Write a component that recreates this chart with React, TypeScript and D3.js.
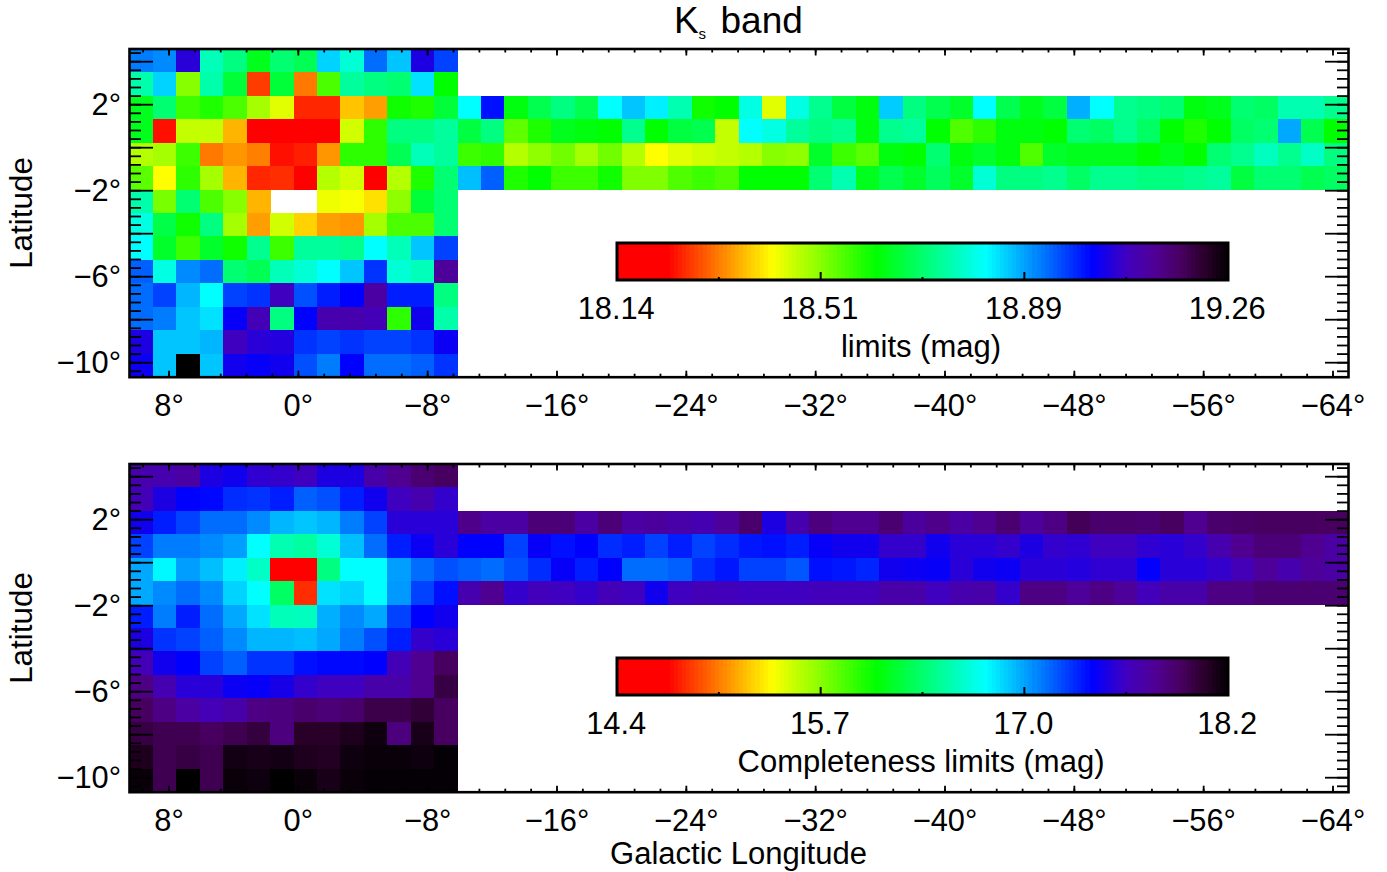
import React from "react";
import * as d3 from "d3";

// Cell values are read as a position along the colour bar: 0 = low end (red), 100 = high end (black).
const limitsBulge: (number | null)[][] = [
  [69, 68, 81, 55, 51, 44, 50, 48, 63, 57, 70, 64, 80, 73],
  [54, 63, 33, 54, 46, 12, 46, 16, 37, 53, 51, 50, 62, 42],
  [44, 50, 38, 40, 37, 31, 27, 10.5, 10.5, 21, 18.5, 41, 40, 46],
  [44, 9, 29, 29, 20, 8, 7, 7, 7, 28, 39, 51, 51, 53],
  [30, 31, 38, 16, 18, 16.5, 9, 10, 18, 39, 39, 48, 55, 53],
  [36, 25, 39, 31, 20, 10.5, 11, 8, 30, 28, 8, 30, 40, 50],
  [54, 34, 50, 37, 33, 20, null, null, 26, 25.5, 23, 32.5, 46, 50],
  [58, 47, 41, 51, 31, 18.5, 28, 22, 18.5, 18, 31, 37, 37, 50],
  [60, 45, 38, 45, 41, 52, 38, 53, 53, 52, 60, 55, 64, 73],
  [71, 58, 68, 70, 50, 48, 55, 57, 60, 64, 74, 57, 55, 87],
  [70, 73, 65, 60, 73, 74, 83, 72, 75.5, 77.5, 86, 75.5, 75.5, 51],
  [70, 69, 64, 62, 78, 84, 51, 77.5, 85, 85, 84, 39, 79, 54],
  [80, 64, 64, 65, 83, 81, 80.5, 74, 73, 74, 73, 73, 74, 78.5],
  [78.5, 64, 100, 64, 79, 78, 79, 72, 69, 77.5, 70, 70, 71, 74],
];
const limitsDisk: number[][] = [
  [60, 76.5, 43, 47.5, 51, 47.5, 60, 64, 61, 54.5, 41, 42, 58, 27, 58, 52, 46.5, 43, 63.5, 51, 47.5, 45, 60, 47.5, 44, 46.5, 65.5, 60, 52, 51, 50, 43, 44, 50, 49, 54.5, 54.5, 52],
  [46.5, 51, 35.6, 40, 44, 43, 42, 52, 42, 46.5, 47.5, 29, 60, 58, 53, 51, 52, 43, 52, 53, 42, 36.7, 39, 43, 43, 42, 50, 49, 52, 49, 42, 40, 42, 49, 50, 66, 47.5, 42],
  [38, 39, 30, 32.4, 34.5, 31, 34.5, 30, 25, 27, 28, 29, 30, 33, 32.4, 45, 38, 36, 43, 42, 50, 43, 45, 43, 36.7, 45, 44, 44, 44, 42, 44, 42, 50, 52, 55.5, 52, 56, 51],
  [64.4, 71, 40, 42, 38, 38, 41, 33.5, 33.5, 36.7, 38, 36.7, 42, 42, 42, 50, 54.4, 44, 47.5, 45, 48.5, 45, 57, 51, 51, 52, 49, 52, 52, 51, 51, 52, 53, 46.5, 50, 50, 47.5, 49],
];
const completenessBulge: number[][] = [
  [85, 85, 86, 80, 79, 81.5, 82, 83, 80, 80, 85.5, 88, 90.5, 92],
  [84, 80, 77.5, 77, 74.5, 74, 75.5, 71, 72, 75.5, 79, 83, 85, 82],
  [79, 75.5, 73, 70, 70, 68, 65, 64, 65, 69, 73, 81, 81, 81],
  [73, 69, 69, 68, 66.6, 60, 54.4, 53.3, 57, 64.4, 70, 75.5, 78.5, 81],
  [66, 60.5, 66.6, 64.4, 61, 56, 8, 8, 51, 60, 60, 66.6, 70, 72],
  [66, 68, 70, 68, 63, 60, 49, 11, 62, 63, 60, 67, 73, 76.5],
  [75.5, 69, 75.5, 70, 66, 62, 55, 55.5, 65.5, 68, 66, 73, 77.5, 79],
  [80, 74, 73, 71, 68, 65, 65, 64.4, 66, 69, 72, 75.5, 82, 81],
  [84, 79, 77.5, 73, 71, 74, 74, 76.5, 77, 77, 77.5, 84, 88, 92],
  [89, 84.5, 81, 81, 78.5, 78, 79.5, 82, 83, 83, 85.5, 85.5, 88, 94],
  [92, 89, 86, 84, 85.5, 89, 89.5, 91, 90, 91, 93.5, 93.5, 95, 92],
  [94, 93, 93, 92, 93, 94.5, 89.5, 96, 96, 97, 98.5, 89.5, 97.5, 92],
  [97, 93, 94, 93, 98, 97.5, 98, 97, 96.5, 98.5, 99, 99, 98.5, 99.5],
  [99, 93, 100, 93, 99, 98.5, 100, 99, 97.5, 99, 99.5, 99.5, 99.5, 99.5],
];
const completenessDisk: number[][] = [
  [88.5, 86, 86, 90, 90, 86, 90, 86, 86.5, 85.5, 84.5, 87, 91, 80, 85, 89.5, 88, 88, 90.5, 86.5, 88.5, 86, 88, 90.5, 87, 89, 92.5, 91, 91, 90.5, 92, 88, 91, 91.5, 92, 92, 92, 92],
  [77.5, 77.5, 73, 78, 76.5, 77.5, 74.5, 75.5, 73, 75.5, 73, 74.5, 76, 76.5, 75.5, 78, 79, 79, 82, 82, 79, 81, 81, 82, 80, 82, 81.5, 83, 83, 81.5, 81, 82, 85, 88, 90, 90, 88, 86],
  [71, 70, 72, 74.5, 78, 75.5, 77.5, 70, 70, 71, 74.5, 76, 73, 73, 71.5, 76.5, 76, 75, 79, 78.5, 78, 81, 79, 78.5, 81, 81, 80.5, 81.5, 81.5, 77.8, 81, 81, 82, 84, 87, 85, 87, 86],
  [85, 88, 82, 83.5, 83, 82, 84, 83, 79, 83, 84, 83.5, 83, 83, 83, 83.5, 83.5, 83.5, 85.5, 85.5, 83, 85, 85.5, 82, 89, 89, 87, 89, 87, 83.5, 85.5, 85.5, 89, 89, 90.5, 90.5, 90.5, 90.5],
];
const lonTicks = [8, 0, -8, -16, -24, -32, -40, -48, -56, -64];
const latLabels = [2, -2, -6, -10];
const limitLabels = ["18.14", "18.51", "18.89", "19.26"];
const completenessLabels = ["14.4", "15.7", "17.0", "18.2"];
const colorPositions = [0, 8, 25, 42, 60, 77.5, 83, 88, 92, 96, 100];
const colorValues = ["#ff0000", "#ff0000", "#ffff00", "#00ff00", "#00ffff", "#0000ff", "#4000c0", "#500090", "#480060", "#280028", "#000000"];

const FONT = "'Liberation Sans', Arial, Helvetica, sans-serif";
const color = d3.scaleLinear<string>().domain(colorPositions).range(colorValues).clamp(true);
const x = d3.scaleLinear().domain([8, -64]).range([169, 1333]);
const lat = d3.scaleLinear().domain([4, -10]).range([61.7, 362.7]);
const CELL = 23.43;
const LEFT = 129.5;
const TOP = 49;
const BOTTOM = 377.2;
const RIGHT = 1348.5;
const LABEL_SIZE = 30.8;
const cols = d3.scaleBand<number>().domain(d3.range(52)).range([LEFT, LEFT + CELL * 52]);
const rows = d3.scaleBand<number>().domain(d3.range(14)).range([TOP, TOP + CELL * 14]);
const barX = d3.scaleLinear().domain([0, 100]).range([617, 1228]);
const barSteps = d3.range(0, 100, 100 / 150);
const barTicks = [1, 2, 3, 4, 5];
const minorLon = d3.range(9.6, -65, -1.6);
const minorLat = d3.range(-10.4, 4.5, 0.4);
const majorLat = d3.range(-10, 5, 2);

function Panel({ dy, bulge, disk, labels, name }: { dy: number; bulge: (number | null)[][]; disk: number[][]; labels: string[]; name: string }) {
  const tickStroke = { stroke: "#000", strokeWidth: 1.8 };
  return (
    <g transform={`translate(0,${dy})`}>
      <g shapeRendering="crispEdges">
        {bulge.map((r, i) =>
          r.map((v, j) =>
            v === null ? null : (
              <rect key={`b${i}-${j}`} x={cols(j)} y={rows(i)} width={cols.bandwidth() + 0.5} height={rows.bandwidth() + 0.5} fill={color(v)} />
            )
          )
        )}
        {disk.map((r, i) =>
          r.map((v, j) => (
            <rect key={`d${i}-${j}`} x={cols(j + 14)} y={rows(i + 2)} width={cols.bandwidth() + 0.5} height={rows.bandwidth() + 0.5} fill={color(v)} />
          ))
        )}
      </g>
      {minorLon.map((v) => (
        <g key={`mx${v}`} {...tickStroke}>
          <line x1={x(v)} x2={x(v)} y1={TOP} y2={TOP + 3.5} />
          <line x1={x(v)} x2={x(v)} y1={BOTTOM} y2={BOTTOM - 3.5} />
        </g>
      ))}
      {lonTicks.map((v) => (
        <g key={`x${v}`} {...tickStroke}>
          <line x1={x(v)} x2={x(v)} y1={TOP} y2={TOP + 6.5} />
          <line x1={x(v)} x2={x(v)} y1={BOTTOM} y2={BOTTOM - 6.5} />
        </g>
      ))}
      {minorLat.map((v) => (
        <g key={`my${v}`} {...tickStroke}>
          <line x1={LEFT} x2={LEFT + 11.5} y1={lat(v)} y2={lat(v)} />
          <line x1={RIGHT} x2={RIGHT - 11.5} y1={lat(v)} y2={lat(v)} />
        </g>
      ))}
      {majorLat.map((v) => (
        <g key={`y${v}`} {...tickStroke}>
          <line x1={LEFT} x2={LEFT + 23.5} y1={lat(v)} y2={lat(v)} />
          <line x1={RIGHT} x2={RIGHT - 23.5} y1={lat(v)} y2={lat(v)} />
        </g>
      ))}
      <rect x={LEFT} y={TOP} width={RIGHT - LEFT} height={BOTTOM - TOP} fill="none" stroke="#000" strokeWidth={2.6} />
      {lonTicks.map((v) => (
        <text key={`tx${v}`} x={x(v)} y={416} textAnchor="middle" fontSize={LABEL_SIZE} fill="#000">
          {v < 0 ? `\u2212${-v}\u00b0` : `${v}\u00b0`}
        </text>
      ))}
      {latLabels.map((v) => (
        <text key={`ty${v}`} x={121} y={lat(v) + 10.5} textAnchor="end" fontSize={LABEL_SIZE} fill="#000">
          {v < 0 ? `\u2212${-v}\u00b0` : `${v}\u00b0`}
        </text>
      ))}
      <text transform="translate(32,213) rotate(-90)" textAnchor="middle" fontSize={31.4} fill="#000">
        Latitude
      </text>
      <g shapeRendering="crispEdges">
        {barSteps.map((t) => (
          <rect key={`c${t}`} x={barX(t)} y={243} width={barX(100 / 150) - barX(0) + 0.6} height={37} fill={color(t)} />
        ))}
      </g>
      <rect x={barX(0)} y={243} width={barX(100) - barX(0)} height={37} fill="none" stroke="#000" strokeWidth={3} />
      {barTicks.map((k) => (
        <line
          key={`bt${k}`}
          x1={barX((k * 100) / 6)}
          x2={barX((k * 100) / 6)}
          y1={280}
          y2={k % 2 === 0 ? 272 : 277}
          stroke="#000"
          strokeWidth={2}
        />
      ))}
      {labels.map((l, i) => (
        <text key={l} x={barX((i * 100) / 3) - 0.8} y={319} textAnchor="middle" fontSize={LABEL_SIZE} fill="#000">
          {l}
        </text>
      ))}
      <text x={921} y={357} textAnchor="middle" fontSize={31} fill="#000">
        {name}
      </text>
    </g>
  );
}

export default function App() {
  return (
    <svg
      width={1387}
      height={872}
      viewBox="0 0 1387 872"
      style={{ position: "absolute", left: 0, top: 0, display: "block", background: "#fff" }}
      fontFamily={FONT}
    >
      <text y={33} fontSize={37} fill="#000">
        <tspan x={674}>K</tspan>
        <tspan x={698.5} dy={6} fontSize={15}>s</tspan>
        <tspan x={720.5} dy={-6}>band</tspan>
      </text>
      <Panel dy={0} bulge={limitsBulge} disk={limitsDisk} labels={limitLabels} name="limits (mag)" />
      <Panel dy={415} bulge={completenessBulge} disk={completenessDisk} labels={completenessLabels} name="Completeness limits (mag)" />
      <text x={738.5} y={864} textAnchor="middle" fontSize={31} fill="#000">
        Galactic Longitude
      </text>
    </svg>
  );
}
